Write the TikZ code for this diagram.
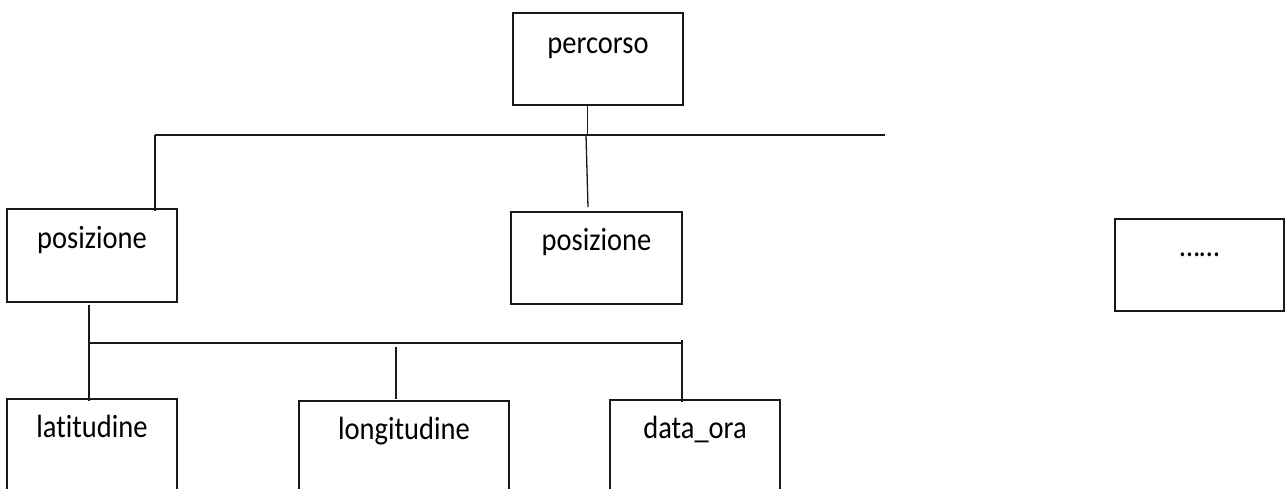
\documentclass[tikz,border=0pt]{standalone}
\usepackage{fontspec}
\setmainfont{Carlito}[Ligatures=NoCommon]
% labels are set slightly tall, as in the drawing
\newcommand{\tallText}[1]{\scalebox{1}[1.13]{#1}}
\begin{document}
\begin{tikzpicture}[x=1pt,y=-1pt,
  box/.style={draw=black!90, line width=1.3pt, rectangle, inner sep=0pt, outer sep=0pt},
  lbl/.style={anchor=base, inner sep=0pt, font=\fontsize{28.5}{34}\selectfont},
  wire/.style={draw=black!90, line width=1.3pt}]
\useasboundingbox (0,0) rectangle (1285,488);
\clip (0,0) rectangle (1285,488);

% boxes
\node[box, minimum width=170pt, minimum height=92pt] (perc) at (598,59) {};
\node[box, minimum width=170pt, minimum height=93pt] (pos1) at (92,255.5) {};
\node[box, minimum width=171pt, minimum height=92pt] (pos2) at (596.5,258) {};
\node[box, minimum width=169pt, minimum height=92pt] (more) at (1199.5,265) {};
\node[box, minimum width=170pt, minimum height=92pt] (lat) at (92,445) {};
\node[box, minimum width=210pt, minimum height=92pt] (lon) at (404,447) {};
\node[box, minimum width=170pt, minimum height=92pt] (dat) at (695,446) {};

% labels, set near the top of each box
\node[lbl] (perc-t) at ([yshift=-40pt]perc.north) {\tallText{percorso}};
\node[lbl] (pos1-t) at ([yshift=-39pt]pos1.north) {\tallText{posizione}};
\node[lbl] (pos2-t) at ([yshift=-38pt]pos2.north) {\tallText{posizione}};
\node[lbl] (more-t) at ([yshift=-37pt]more.north) {\tallText{……}};
\node[lbl] (lat-t) at ([yshift=-38pt]lat.north) {\tallText{latitudine}};
\node[lbl] (lon-t) at ([yshift=-38pt]lon.north) {\tallText{longitudine}};
\node[lbl] (dat-t) at ([yshift=-38pt]dat.north) {\tallText{data\_ora}};

% upper level: percorso -> posizione, posizione, ...
\coordinate (hl) at (155,135);
\coordinate (hr) at (885,135);
\coordinate (hj) at (587.5,135);
\coordinate (hm) at (586,135);
\coordinate (hme) at (588,207);
\draw[wire] (perc.south -| hj) -- (hj);
\draw[wire] (hl) -- (hr);
\draw[wire] (hl) -- ([yshift=-2pt]hl |- pos1.north);
\draw[wire] (hm) -- (hme);

% lower level: posizione -> latitudine, longitudine, data_ora
\coordinate (ls) at (89,305);
\coordinate (ll) at (88,343);
\coordinate (lr) at (682,343);
\coordinate (lmt) at (396,347);
\coordinate (lrt) at (682,340);
\draw[wire] (ls) -- ([yshift=-2pt]ls |- lat.north);
\draw[wire] (ll) -- (lr);
\draw[wire] (lmt) -- ([yshift=2pt]lmt |- lon.north);
\draw[wire] (lrt) -- ([yshift=-2pt]lrt |- dat.north);
\end{tikzpicture}
\end{document}
